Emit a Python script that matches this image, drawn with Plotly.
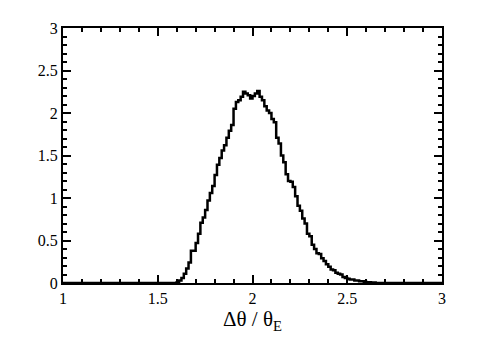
import plotly.graph_objects as go

bin_left = [1.0, 1.5750, 1.5875, 1.6000, 1.6125, 1.6250, 1.6375, 1.6500, 1.6625, 1.6750, 1.6875,
            1.7000, 1.7125, 1.7250, 1.7375, 1.7500, 1.7625, 1.7750, 1.7875, 1.8000, 1.8125,
            1.8250, 1.8375, 1.8500, 1.8625, 1.8750, 1.8875, 1.9000, 1.9125, 1.9250, 1.9375,
            1.9500, 1.9625, 1.9750, 1.9875, 2.0000, 2.0125, 2.0250, 2.0375, 2.0500, 2.0625,
            2.0750, 2.0875, 2.1000, 2.1125, 2.1250, 2.1375, 2.1500, 2.1625, 2.1750, 2.1875,
            2.2000, 2.2125, 2.2250, 2.2375, 2.2500, 2.2625, 2.2750, 2.2875, 2.3000, 2.3125,
            2.3250, 2.3375, 2.3500, 2.3625, 2.3750, 2.3875, 2.4000, 2.4125, 2.4250, 2.4375,
            2.4500, 2.4625, 2.4750, 2.4875, 2.5000, 2.5125, 2.5250, 2.5375, 2.5500, 2.5625,
            2.5750, 2.5875, 2.6000, 2.6125, 2.6250, 2.6375, 2.6500, 3.0]
density = [0.0, 0.0, 0.0, 0.01, 0.03, 0.06, 0.11, 0.17, 0.24, 0.38, 0.38,
           0.47, 0.58, 0.71, 0.77, 0.86, 0.97, 1.06, 1.14, 1.27, 1.39,
           1.47, 1.56, 1.62, 1.71, 1.79, 1.86, 2.05, 2.13, 2.15, 2.19,
           2.25, 2.23, 2.21, 2.17, 2.20, 2.23, 2.26, 2.19, 2.15, 2.08,
           2.03, 2.00, 1.93, 1.89, 1.71, 1.64, 1.50, 1.42, 1.28, 1.20,
           1.19, 1.13, 1.02, 0.91, 0.85, 0.76, 0.70, 0.58, 0.55, 0.45,
           0.40, 0.35, 0.34, 0.29, 0.26, 0.22, 0.19, 0.16, 0.15, 0.12,
           0.11, 0.10, 0.07, 0.06, 0.05, 0.04, 0.04, 0.03, 0.03, 0.02,
           0.02, 0.015, 0.01, 0.01, 0.005, 0.005, 0.0, 0.0]

x_ticks = [1, 1.5, 2, 2.5, 3]
x_ticklabels = ["1", "1.5", "2", "2.5", "3"]
y_ticks = [0, 0.5, 1, 1.5, 2, 2.5, 3]
y_ticklabels = ["0", "0.5", "1", "1.5", "2", "2.5", "3"]
x_title = "Δθ / θ<sub>E</sub>"

fig = go.Figure()
fig.add_trace(go.Scatter(x=bin_left, y=density, mode="lines", line_shape="hv",
                         line=dict(color="black", width=2.5), showlegend=False))

font = "'Liberation Serif', serif"
axis_common = dict(showline=True, linecolor="black", linewidth=2, mirror="ticks",
                   ticks="inside", ticklen=8, tickwidth=1.5, tickcolor="black",
                   showgrid=False, zeroline=False,
                   tickfont=dict(family=font, size=16, color="black"))

fig.update_xaxes(range=[1, 3], tickvals=x_ticks, ticktext=x_ticklabels,
                 minor=dict(ticks="inside", ticklen=4, tickwidth=1.5, dtick=0.1, tickcolor="black", showgrid=False),
                 title=dict(text=x_title, font=dict(family=font, size=21, color="black"), standoff=0),
                 **axis_common)
fig.update_yaxes(range=[0, 3], tickvals=y_ticks, ticktext=y_ticklabels,
                 minor=dict(ticks="inside", ticklen=4, tickwidth=1.5, dtick=0.1, tickcolor="black", showgrid=False),
                 **axis_common)

fig.update_layout(width=485, height=346, plot_bgcolor="white", paper_bgcolor="white",
                  font=dict(family=font, color="black"),
                  margin=dict(l=55, r=51, t=20, b=71))

fig.write_html("out.html")
